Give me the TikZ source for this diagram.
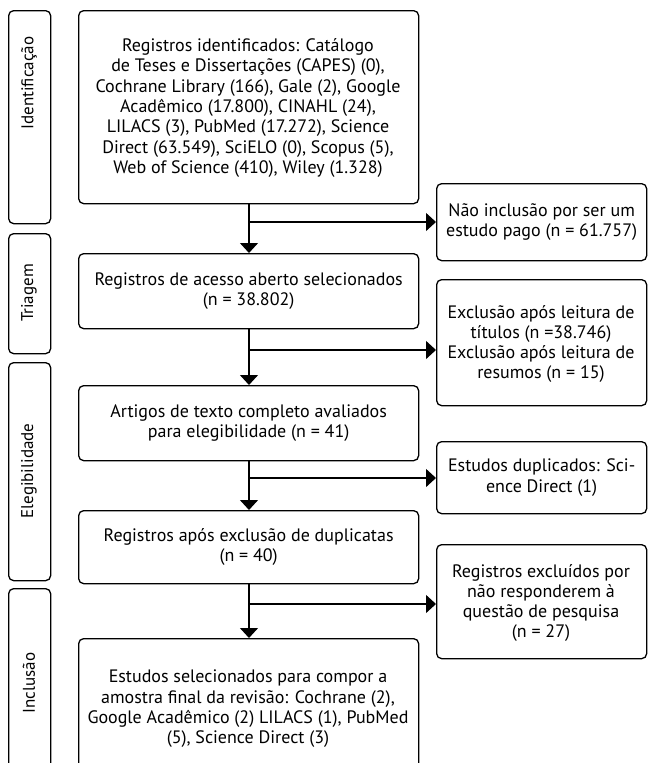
\documentclass[tikz,border=0pt]{standalone}
\usepackage{fontspec}
\setmainfont{PT Sans}
\usetikzlibrary{arrows.meta}
\tikzset{
  frame/.style={draw, line width=1.3pt, rounded corners=5pt, anchor=north west, inner sep=0pt},
  txt/.style={align=center, font=\fontsize{18}{20.3}\selectfont, inner sep=0pt},
  stagetxt/.style={rotate=90, font=\fontsize{17}{20}\selectfont, inner sep=0pt},
  arr/.style={line width=1.3pt, -{Triangle[length=10pt,width=18pt]}}
}
\begin{document}
\begin{tikzpicture}[x=1pt,y=-1pt]
\useasboundingbox (0,0) rectangle (648,763);
\clip (0,0) rectangle (648,763);
% stage boxes
\node[frame, minimum width=42pt, minimum height=213pt] (s1) at (8,10) {};
\node[frame, minimum width=42pt, minimum height=120pt] (s2) at (8,233) {};
\node[frame, minimum width=42pt, minimum height=218pt] (s3) at (8,362) {};
\node[frame, minimum width=42pt, minimum height=190pt] (s4) at (8,588) {};
\node[stagetxt] (l1) at (29,83) {Identificação};
\node[stagetxt] (l2) at (29,293) {Triagem};
\node[stagetxt] (l3) at (29,471) {Elegibilidade};
\node[stagetxt] (l4) at (29,683) {Inclusão};
% main boxes
\node[frame, minimum width=340pt, minimum height=193pt] (b1) at (78,10) {};
\node[txt] (t1) at (248,108) {Registros identificados: Catálogo\\de Teses e Dissertações (CAPES) (0),\\Cochrane Library (166), Gale (2), Google\\Acadêmico (17.800), CINAHL (24),\\LILACS (3), PubMed (17.272), Science\\Direct (63.549), SciELO (0), Scopus (5),\\Web of Science (410), Wiley (1.328)};
\node[frame, minimum width=340pt, minimum height=75pt] (b2) at (78,253) {};
\node[txt] (t2) at (b2.center) {Registros de acesso aberto selecionados\\(n = 38.802)};
\node[frame, minimum width=340pt, minimum height=75pt] (b3) at (78,385) {};
\node[txt] (t3) at (b3.center) {Artigos de texto completo avaliados\\para elegibilidade (n = 41)};
\node[frame, minimum width=340pt, minimum height=73pt] (b4) at (78,510) {};
\node[txt] (t4) at (b4.center) {Registros após exclusão de duplicatas\\(n = 40)};
\node[frame, minimum width=340pt, minimum height=140pt] (b5) at (78,638) {};
\node[txt] (t5) at (248,709) {Estudos selecionados para compor a\\amostra final da revisão: Cochrane (2),\\Google Acadêmico (2) LILACS (1), PubMed\\(5), Science Direct (3)};
% right boxes
\node[frame, minimum width=210pt, minimum height=77pt] (r1) at (436,183) {};
\node[txt] (u1) at (r1.center) {Não inclusão por ser um\\estudo pago (n = 61.757)};
\node[frame, minimum width=210pt, minimum height=126pt] (r2) at (436,279) {};
\node[txt] (u2) at (541,344) {Exclusão após leitura de\\títulos (n =38.746)\\Exclusão após leitura de\\resumos (n = 15)};
\node[frame, minimum width=210pt, minimum height=72pt] (r3) at (436,441) {};
\node[txt] (u3) at (r3.center) {Estudos duplicados: Sci-\\ence Direct (1)};
\node[frame, minimum width=210pt, minimum height=114pt] (r4) at (436,544) {};
\node[txt] (u4) at (541,603) {Registros excluídos por\\não responderem à\\questão de pesquisa\\(n = 27)};
% branch points
\coordinate (j1) at (249,222);
\coordinate (j2) at (249,350);
\coordinate (j3) at (249,478);
\coordinate (j4) at (249,604);
% connectors
\draw[arr] (b1.south -| j1) -- (b2.north -| j1);
\draw[arr] (j1) -- (j1 -| r1.west);
\draw[arr] (b2.south -| j2) -- (b3.north -| j2);
\draw[arr] (j2) -- (j2 -| r2.west);
\draw[arr] (b3.south -| j3) -- (b4.north -| j3);
\draw[arr] (j3) -- (j3 -| r3.west);
\draw[arr] (b4.south -| j4) -- (b5.north -| j4);
\draw[arr] (j4) -- (j4 -| r4.west);
\end{tikzpicture}
\end{document}
